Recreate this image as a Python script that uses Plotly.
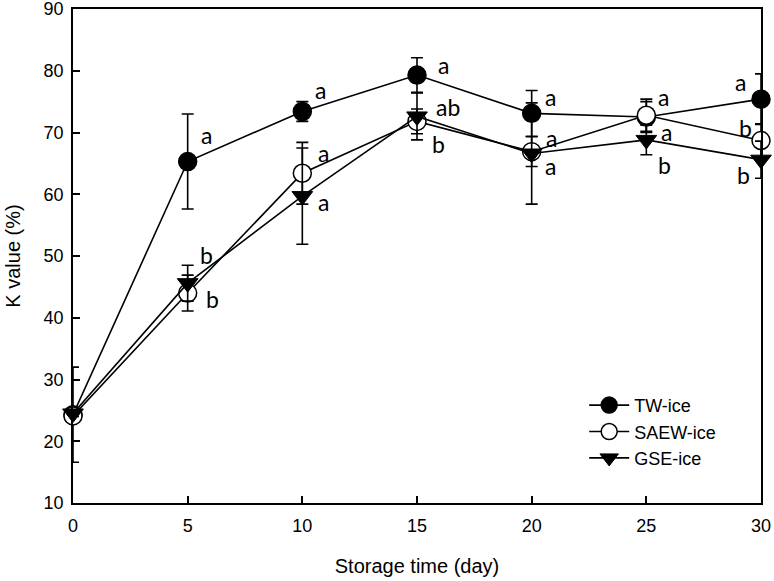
import plotly.graph_objects as go

days = [0, 5, 10, 15, 20, 25, 30]

tw_ice = [24.3, 65.3, 73.4, 79.3, 73.1, 72.5, 75.4]
tw_err = [7.7, 7.7, 1.6, 2.8, 3.7, 2.5, 4.1]
tw_letters = ["", "a", "a", "a", "a", "a", "a"]

saew_ice = [24.1, 44.0, 63.4, 71.8, 66.9, 72.8, 68.7]
saew_err = [0.5, 2.9, 5.0, 2.0, 2.4, 2.6, 2.7]
saew_letters = ["", "b", "a", "ab", "a", "a", "b"]

gse_ice = [24.5, 45.6, 59.7, 72.6, 66.6, 68.8, 65.6]
gse_err = [0.5, 2.9, 7.8, 3.8, 8.2, 2.4, 3.0]
gse_letters = ["", "b", "a", "b", "a", "b", "b"]

# label offsets in pixels (style only)
tw_off = [(0, 0), (19, -27), (18, -22), (26, -10), (19, -16), (17, -20), (-21, -17)]
saew_off = [(0, 0), (25, 6), (21, -20), (31, -14), (20, -14), (20, 17), (-16, -13)]
gse_off = [(0, 0), (19, -28), (21, 6), (21, 28), (19, 12), (18, 25), (-18, 15)]

fig = go.Figure()

series = [
    ("TW-ice", tw_ice, tw_err, dict(symbol="circle", size=18, color="black",
                                    line=dict(color="black", width=1.5))),
    ("SAEW-ice", saew_ice, saew_err, dict(symbol="circle", size=18, color="white",
                                          line=dict(color="black", width=1.5))),
    ("GSE-ice", gse_ice, gse_err, dict(symbol="triangle-down", size=18, color="black",
                                       line=dict(color="black", width=1))),
]

for name, vals, err, mk in series:
    fig.add_trace(go.Scatter(
        x=days, y=vals, name=name, mode="lines+markers",
        line=dict(color="black", width=1.6),
        marker=mk,
        error_y=dict(type="data", array=err, visible=True, color="black",
                     thickness=1.6, width=6),
        cliponaxis=False,
    ))

annotations = []
for vals, letters, offs in [(tw_ice, tw_letters, tw_off),
                            (saew_ice, saew_letters, saew_off),
                            (gse_ice, gse_letters, gse_off)]:
    for d, v, lt, (dx, dy) in zip(days, vals, letters, offs):
        if not lt:
            continue
        annotations.append(dict(
            x=d, y=v, xref="x", yref="y", text=lt, showarrow=False,
            xshift=dx, yshift=-dy,
            font=dict(family="Lato, Liberation Sans, sans-serif", size=23, color="black"),
        ))

axis_font = dict(family="Liberation Sans, Arial, sans-serif", size=18, color="black")
title_font = dict(family="Liberation Sans, Arial, sans-serif", size=20, color="black")

fig.update_layout(
    width=774, height=581,
    margin=dict(l=73, r=13, t=9, b=78),
    paper_bgcolor="white", plot_bgcolor="white",
    showlegend=True,
    legend=dict(x=0.743, y=0.235, xanchor="left", yanchor="top",
                bgcolor="rgba(0,0,0,0)", font=dict(family="Liberation Sans, Arial, sans-serif",
                                                    size=18, color="black"),
                tracegroupgap=0, itemwidth=40),
    annotations=annotations,
    xaxis=dict(range=[0, 30], tickvals=[0, 5, 10, 15, 20, 25, 30],
               ticks="inside", ticklen=7, tickwidth=1.5, tickcolor="black",
               showline=True, linecolor="black", linewidth=1.5, mirror=True,
               showgrid=False, zeroline=False, tickfont=axis_font, automargin=False,
               ticklabeloverflow="allow", ticklabelstandoff=6,
               title=dict(text="Storage time (day)", font=title_font, standoff=24)),
    yaxis=dict(range=[10, 90], tickvals=[10, 20, 30, 40, 50, 60, 70, 80, 90],
               ticks="inside", ticklen=7, tickwidth=1.5, tickcolor="black",
               showline=True, linecolor="black", linewidth=1.5, mirror=True,
               showgrid=False, zeroline=False, tickfont=axis_font, automargin=False,
               ticklabeloverflow="allow", ticklabelstandoff=4,
               title=dict(text="K value (%)", font=title_font, standoff=18)),
)

fig.write_html("out.html", config={"displayModeBar": False},
               post_script="document.body.style.margin='0';")
